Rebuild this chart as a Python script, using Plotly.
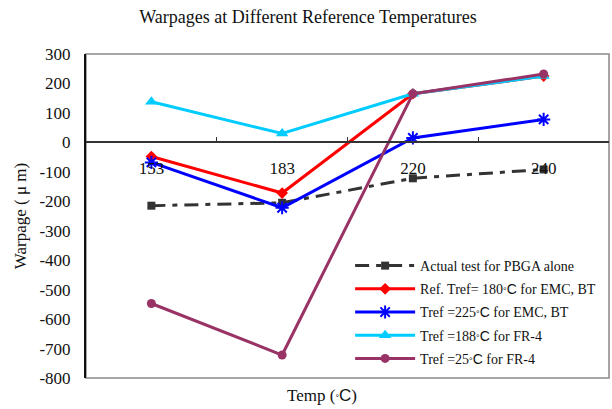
import plotly.graph_objects as go

temps = ["153", "183", "220", "240"]
actual_pbga = [-215, -205, -122, -92]
ref_180_emc = [-48, -172, 165, 225]
tref_225_emc = [-68, -222, 15, 78]
tref_188_fr4 = [138, 30, 165, 225]
tref_25_fr4 = [-547, -722, 165, 232]

y_ticks = [300, 200, 100, 0, -100, -200, -300, -400, -500, -600, -700, -800]
y_tick_text = ["300", "200", "100", "0", "-100", "-200", "-300", "-400", "-500", "-600", "-700", "-800"]

FONT = "Liberation Serif"
deg = "<span style='font-family:Arial;font-size:9px'>°</span><span style='font-family:Arial'>C</span>"

series = [
    ("Actual test for PBGA alone", actual_pbga, "#333333", "square", 8, "14px,7px,5px,7px", None),
    (f"Ref. Tref= 180{deg} for EMC, BT", ref_180_emc, "#FF0000", "diamond", 9, "solid", None),
    (f"Tref =225{deg} for EMC, BT", tref_225_emc, "#0000FF", "asterisk-open", 11, "solid", 2),
    (f"Tref =188{deg} for FR-4", tref_188_fr4, "#00CCFF", "triangle-up", 11, "solid", None),
    (f"Tref =25{deg} for FR-4", tref_25_fr4, "#993366", "circle", 9, "solid", None),
]

fig = go.Figure()
for i, (name, vals, color, sym, size, dash, mlw) in enumerate(series):
    marker = dict(symbol=sym, size=size, color=color)
    if mlw:
        marker["line"] = dict(color=color, width=mlw)
    fig.add_trace(go.Scatter(
        x=temps, y=vals, name=name, mode="lines+markers",
        line=dict(color=color, width=3, dash=dash),
        marker=marker, legendgroup=str(i),
    ))

fig.update_layout(
    width=612, height=409,
    margin=dict(l=86, r=3, t=54, b=31),
    paper_bgcolor="white", plot_bgcolor="white",
    font=dict(family=FONT, size=17, color="#111111"),
    title=dict(text="Warpages at Different Reference Temperatures",
               x=(308 - 86) / 523, xref="paper", xanchor="center",
               y=1 - 17 / 409, yanchor="middle",
               font=dict(family=FONT, size=18)),
    showlegend=True,
    legend=dict(x=0.505, y=0.395, xanchor="left", yanchor="top",
                bgcolor="rgba(0,0,0,0)", font=dict(family=FONT, size=14, color="#111111"),
                tracegroupgap=2, itemwidth=60),
    xaxis=dict(type="category", range=[-0.5, 3.5], anchor="free", position=800 / 1100,
               showline=True, linecolor="#333333", linewidth=1.5,
               ticks="inside", ticklen=5, tickcolor="#333333", tickson="boundaries",
               ticklabelstandoff=10,
               showgrid=False, zeroline=False, fixedrange=True,
               tickfont=dict(family=FONT, size=17)),
    yaxis=dict(range=[-800, 300], tickmode="array", tickvals=y_ticks, ticktext=y_tick_text,
               showline=True, linecolor="#111111", linewidth=2,
               ticks="", showgrid=False, zeroline=False, ticklabelstandoff=10,
               tickfont=dict(family=FONT, size=17),
               title=dict(text="Warpage ( μ m)", font=dict(family=FONT, size=17), standoff=8)),
    shapes=[dict(type="rect", xref="paper", yref="paper", x0=0, x1=1, y0=0, y1=1,
                 line=dict(color="#888888", width=1.5), layer="below")],
    annotations=[dict(text=f"Temp ({deg})", xref="paper", yref="paper",
                      x=(322 - 86) / 523, y=-(395 - 378) / 324, yanchor="middle",
                      showarrow=False, font=dict(family=FONT, size=17))],
)

fig.write_html("out.html")
